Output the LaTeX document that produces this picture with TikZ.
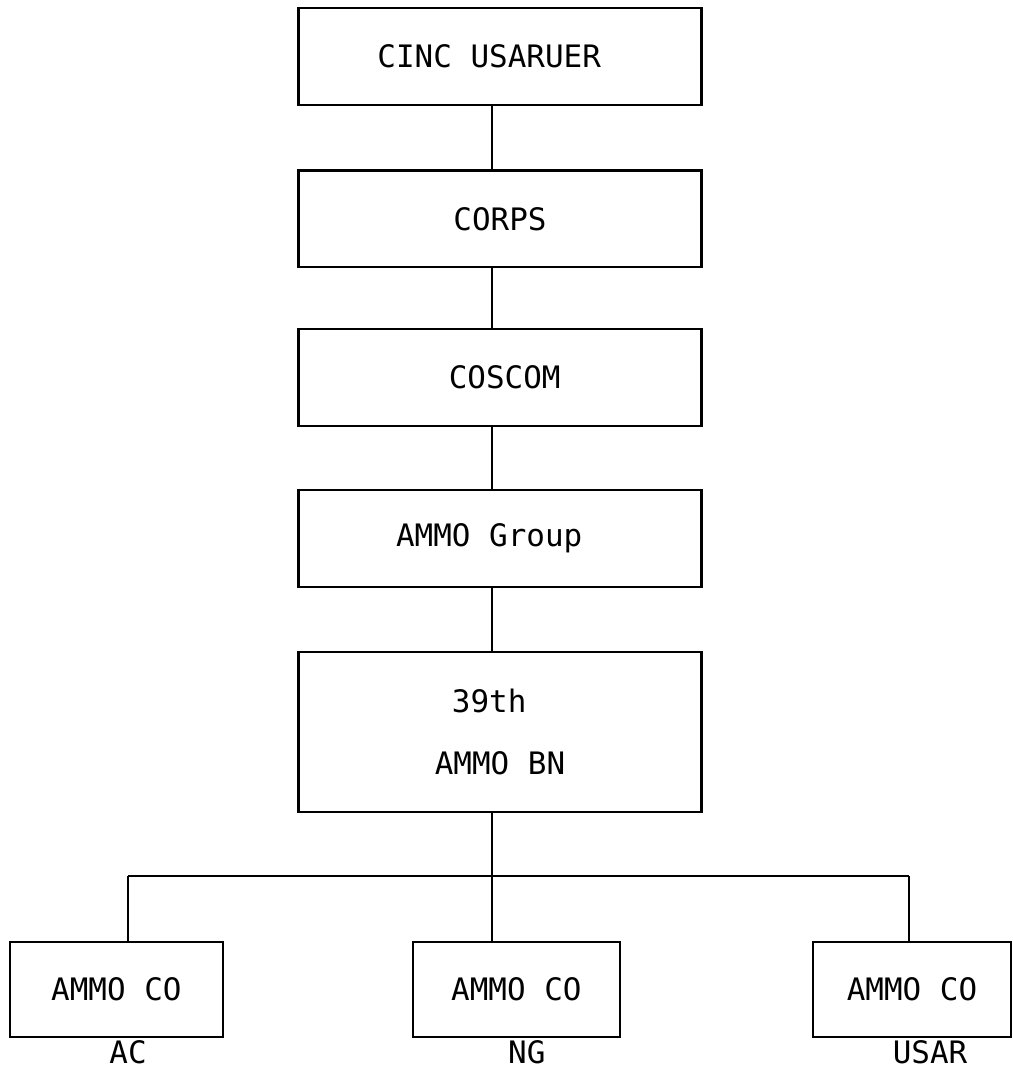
\documentclass[tikz,border=0pt]{standalone}
\usepackage{fontspec}
\setmonofont{DejaVu Sans Mono}
\usetikzlibrary{positioning,calc}

\begin{document}
\begin{tikzpicture}[
  font=\ttfamily\fontsize{22}{26}\selectfont,
  unit/.style={draw,line width=1.8pt,minimum width=10.07cm,minimum height=2.42cm,inner sep=0pt},
  cobox/.style={draw,line width=1.8pt,minimum height=2.37cm,inner sep=0pt},
  conn/.style={line width=1.3pt},
  lbl/.style={inner sep=0pt}]

% page frame (1012 x 1074 px, 40 px per cm)
\useasboundingbox (0,0) rectangle (25.3,-26.85);

% chain of command, one box per level
\node[unit] (cinc) at (12.5,-1.41) {CINC USARUER\hspace*{0.7em}};
\node[unit] (corps) at (12.5,-5.47) {CORPS};
\node[unit] (coscom) at (12.5,-9.44) {\hspace*{0.3em}COSCOM};
\node[unit] (grp) at (12.5,-13.46) {AMMO Group\hspace*{0.7em}};
\node[unit,minimum height=4.0cm,align=center] (bn) at (12.5,-18.3)
  {39th\hspace*{0.7em}\\[18pt]AMMO BN};

% companies
\node[cobox,minimum width=5.32cm] (coa) at (2.91,-24.74) {AMMO CO};
\node[cobox,minimum width=5.18cm] (cob) at (12.91,-24.74) {AMMO CO};
\node[cobox,minimum width=4.95cm] (coc) at (22.8,-24.74) {AMMO CO};
\node[lbl] (aclbl) at (3.2,-26.3) {AC};
\node[lbl] (nglbl) at (13.17,-26.3) {NG};
\node[lbl] (usarlbl) at (23.25,-26.3) {USAR};

% trunk and bus
\coordinate (trunk) at (12.3,0);
\coordinate (busL) at (3.2,-21.9);
\coordinate (busR) at (22.72,-21.9);
\draw[conn] (cinc.south -| trunk) -- (corps.north -| trunk);
\draw[conn] (corps.south -| trunk) -- (coscom.north -| trunk);
\draw[conn] (coscom.south -| trunk) -- (grp.north -| trunk);
\draw[conn] (grp.south -| trunk) -- (bn.north -| trunk);
\draw[conn] (bn.south -| trunk) -- (cob.north -| trunk);
\draw[conn] (busL) -- (busR);
\draw[conn] (busL) -- (coa.north -| busL);
\draw[conn] (busR) -- (coc.north -| busR);
\end{tikzpicture}
\end{document}
